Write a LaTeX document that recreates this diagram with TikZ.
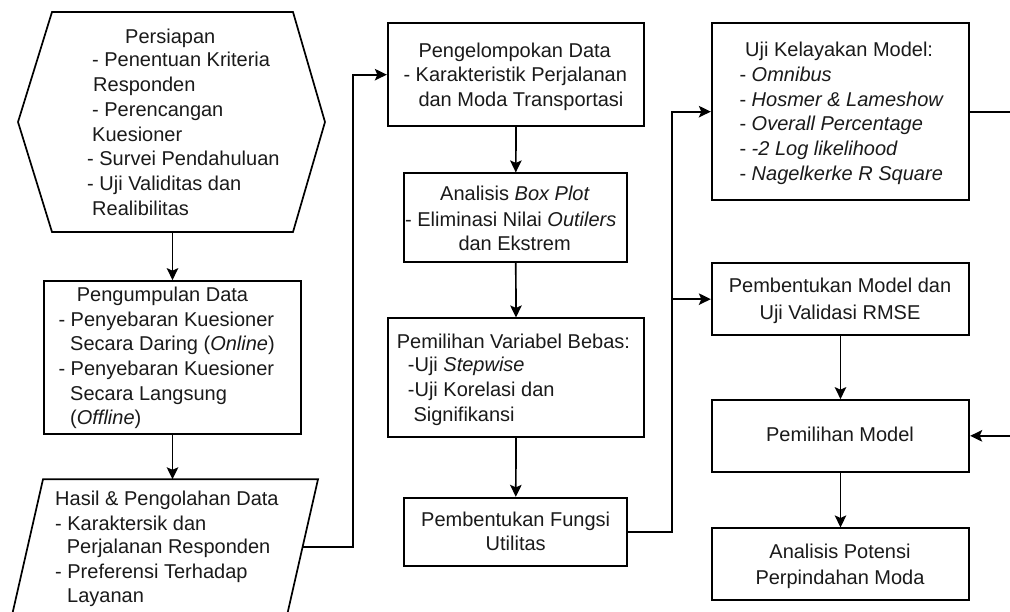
\documentclass[tikz,border=0pt]{standalone}
\usepackage{fontspec}
\setmainfont{Liberation Sans}
\usetikzlibrary{arrows.meta}
\definecolor{ink}{HTML}{1A1A1A}
\tikzset{
  bx/.style={draw=black, line width=1.7pt, inner sep=0pt, fill=white},
  txt/.style={anchor=base west, inner sep=0pt, text=ink, font=\fontsize{20}{24.5}\selectfont},
  ctxt/.style={txt, anchor=base},
  arr/.style={draw=black, line width=1.7pt, -{Stealth[length=12pt,width=11.5pt,inset=2.5pt]}},
  ln/.style={draw=black, line width=1.7pt}
}
\newcommand\boxat[5]{\node[bx, minimum width=#4pt, minimum height=#5pt] (#1) at (#2,#3) {};}
\newcommand\tline[4]{\node[txt] (#1) at (#2,#3) {#4};}
\newcommand\ctrline[4]{\node[ctxt] (#1) at (#2,#3) {#4};}
\begin{document}
\begin{tikzpicture}[x=1pt,y=-1pt]
\useasboundingbox (0,0) rectangle (1010,611);
\clip (0,0) rectangle (1010,611);
\fill[white] (0,0) rectangle (1010,611);
% hexagon
\draw[ln, fill=white] (52,12) -- (293,12) -- (325,122) -- (293,232) -- (52,232) -- (18,122) -- cycle;
\coordinate (hexb) at (172.5,232);
% parallelogram
\draw[ln, fill=white] (43,479.3) -- (318,479.3) -- (281.4,640) -- (6.4,640) -- cycle;
\coordinate (hasilt) at (172.5,479.3);
\coordinate (hasilr) at (302.6,547);
% boxes
\boxat{pg}{172.5}{357.5}{257}{153}
\boxat{pk}{516}{74.65}{256.6}{102.7}
\boxat{ab}{515.8}{217.5}{223}{88.4}
\boxat{pv}{516}{377.8}{256.6}{119}
\boxat{pf}{515.8}{531.85}{223}{68.3}
\boxat{uk}{840.5}{111.65}{257.6}{176.7}
\boxat{pm}{840.5}{299.15}{257.6}{71.7}
\boxat{pmo}{840.5}{435.85}{257.6}{71.7}
\boxat{ap}{840.5}{564.15}{257.6}{71.7}
% connectors
\draw[arr] (hexb) -- (pg.north);
\draw[arr] (pg.south) -- (hasilt);
\draw[arr] (hasilr) -- ++(50.4,0) |- (pk.west);
\draw[arr] (pk.south) -- (ab.north);
\draw[arr] (ab.south) -- (pv.north);
\draw[arr] (pv.south) -- (pf.north);
\draw[arr] (pf.east) -- ++(44,0) |- (uk.west);
\coordinate (bus) at (671.3,299.15);
\draw[arr] (bus) -- (pm.west);
\draw[arr] (pm.south) -- (pmo.north);
\draw[arr] (pmo.south) -- (ap.north);
\draw[arr] (uk.east) -- ++(70,0) |- (pmo.east);
% texts: hexagon
\tline{h1}{125}{43.3}{Persiapan}
\tline{h2}{92}{66.7}{- Penentuan Kriteria}
\tline{h3}{93}{91.7}{Responden}
\tline{h4}{92}{116.7}{- Perencangan}
\tline{h5}{92}{141.7}{Kuesioner}
\tline{h6}{87}{165.7}{- Survei Pendahuluan}
\tline{h7}{87}{190}{- Uji Validitas dan}
\tline{h8}{92}{215}{Realibilitas}
% pengumpulan
\tline{g1}{76.7}{301.7}{Pengumpulan Data}
\tline{g2}{58.3}{326.7}{- Penyebaran Kuesioner}
\tline{g3}{70}{350.7}{Secara Daring (\textit{Online})}
\tline{g4}{58.3}{375.7}{- Penyebaran Kuesioner}
\tline{g5}{70}{400}{Secara Langsung}
\tline{g6}{70}{424.3}{(\textit{Offline})}
% hasil
\tline{s1}{55}{505}{Hasil \& Pengolahan Data}
\tline{s2}{55}{530}{- Karaktersik dan}
\tline{s3}{66.7}{553.3}{Perjalanan Responden}
\tline{s4}{55}{578.3}{- Preferensi Terhadap}
\tline{s5}{67}{602.7}{Layanan}
% pengelompokan
\tline{k1}{418.3}{57.3}{Pengelompokan Data}
\tline{k2}{403.3}{81.7}{- Karakteristik Perjalanan}
\tline{k3}{418.3}{106.7}{dan Moda Transportasi}
% analisis box plot
\tline{a1}{440}{200}{Analisis \textit{Box Plot}}
\tline{a2}{405}{226.7}{- Eliminasi Nilai \textit{Outilers}}
\tline{a3}{458.3}{250}{dan Ekstrem}
% pemilihan variabel
\tline{v1}{396.7}{348.3}{Pemilihan Variabel Bebas:}
\tline{v2}{407.7}{371.7}{-Uji \textit{Stepwise}}
\tline{v3}{407.7}{396.7}{-Uji Korelasi dan}
\tline{v4}{413.3}{421.7}{Signifikansi}
% pembentukan fungsi
\ctrline{f1}{515.7}{526}{Pembentukan Fungsi}
\ctrline{f2}{515.7}{550.7}{Utilitas}
% uji kelayakan
\tline{u1}{745}{56.7}{Uji Kelayakan Model:}
\tline{u2}{739.3}{81.7}{- \textit{Omnibus}}
\tline{u3}{739.3}{106}{- \textit{Hosmer \& Lameshow}}
\tline{u4}{739.3}{130.7}{- \textit{Overall Percentage}}
\tline{u5}{739.3}{155}{- \textit{-2 Log likelihood}}
\tline{u6}{739.3}{180}{- \textit{Nagelkerke R Square}}
% right column
\ctrline{m1}{840}{292.7}{Pembentukan Model dan}
\ctrline{m2}{840}{319}{Uji Validasi RMSE}
\ctrline{o1}{840}{441.7}{Pemilihan Model}
\ctrline{p1}{840}{558.3}{Analisis Potensi}
\ctrline{p2}{840}{584.3}{Perpindahan Moda}
\end{tikzpicture}
\end{document}
